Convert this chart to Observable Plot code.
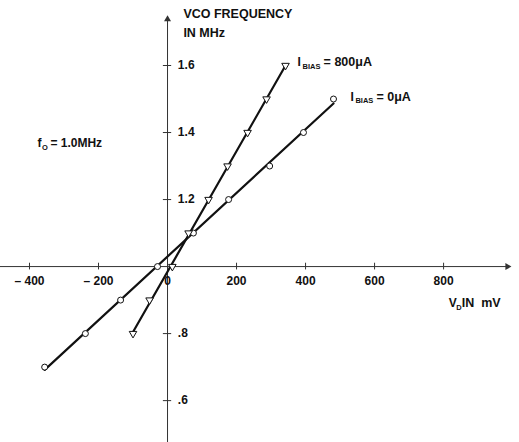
<!DOCTYPE html>
<html><head><meta charset="utf-8">
<script src="https://cdn.jsdelivr.net/npm/d3@7"></script>
<script src="https://cdn.jsdelivr.net/npm/@observablehq/plot@0.6"></script>
<style>body{margin:0;background:#fff} svg{display:block}</style>
</head><body><div id="chart"></div>
<script>
// VCO frequency (MHz) vs V_D (mV)
const vd0 = [-356, -238, -136, -29, 75, 177, 296, 394, 481];
const f0 = [0.70, 0.80, 0.90, 1.00, 1.10, 1.20, 1.30, 1.40, 1.50];
const vd800 = [-100, -52, 14, 61, 119, 174, 232, 287, 342];
const f800 = [0.80, 0.90, 1.00, 1.10, 1.20, 1.30, 1.40, 1.50, 1.60];
const xTicks = [-400, -200, 0, 200, 400, 600, 800];
const xTickLabels = ["– 400", "– 200", "0", "200", "400", "600", "800"];
const yTicks = [0.6, 0.8, 1.2, 1.4, 1.6];
const yTickLabels = [".6", ".8", "1.2", "1.4", "1.6"];

const s0 = vd0.map((x, i) => ({x, y: f0[i]}));
const s800 = vd800.map((x, i) => ({x, y: f800[i]}));

const FONT = "Liberation Sans, Arial, sans-serif";
const ink = "#111";
const txt = (data, o) => Plot.text(data, {fill: ink, fontWeight: "bold", fontSize: 12, textAnchor: "start", ...o});

const chart = Plot.plot({
  width: 519, height: 442, margin: 0,
  x: {domain: [-484, 1020], axis: null},
  y: {domain: [0.475, 1.794], axis: null},
  style: {fontFamily: FONT, background: "#fff"},
  marks: [
    // axes
    Plot.ruleY([1], {x1: -484, x2: 985, stroke: "#333", strokeWidth: 1}),
    Plot.dot([1], {x: 985, y: d => d, symbol: "triangle", rotate: 90, r: 2.6, fill: "#333", stroke: "none"}),
    Plot.ruleX([0], {y1: 0.475, y2: 1.735, stroke: "#333", strokeWidth: 1}),
    Plot.dot([0], {x: d => d, y: 1.738, symbol: "triangle", r: 2.6, fill: "#333", stroke: "none"}),
    Plot.ruleX(xTicks.filter(d => d !== 0), {x: d => d, y1: 0.99, y2: 1.01, stroke: "#333"}),
    Plot.ruleY(yTicks, {y: d => d, x1: -12, x2: 12, stroke: "#333"}),
    // tick labels
    txt(xTicks, {x: d => d, y: 0.955, text: (d, i) => xTickLabels[i], textAnchor: "middle"}),
    txt(yTicks, {x: 30, y: d => d, text: (d, i) => yTickLabels[i]}),
    // series lines
    Plot.linearRegressionY(s0, {x: "x", y: "y", stroke: ink, strokeWidth: 2.2, ci: 0}),
    Plot.linearRegressionY(s800, {x: "x", y: "y", stroke: ink, strokeWidth: 2.2, ci: 0}),
    Plot.dot(s0, {x: "x", y: "y", r: 3, fill: "#fff", stroke: ink, strokeWidth: 1}),
    Plot.dot(s800, {x: "x", y: "y", symbol: "triangle", rotate: 180, r: 2.8, fill: "#fff", stroke: ink, strokeWidth: 1}),
    // titles
    txt(["VCO FREQUENCY"], {x: 46, y: 1.755, text: d => d, fontSize: 12.5}),
    txt(["IN MHz"], {x: 46, y: 1.698, text: d => d, fontSize: 12.5}),
    // f_O = 1.0MHz
    txt(["f"], {x: -377, y: 1.367, text: d => d}),
    txt(["O"], {x: -377, y: 1.367, text: d => d, dx: 4.5, dy: 4, fontSize: 7.5}),
    txt(["= 1.0MHz"], {x: -377, y: 1.367, text: d => d, dx: 13}),
    // V_D IN mV
    txt(["V"], {x: 815, y: 0.89, text: d => d}),
    txt(["D"], {x: 815, y: 0.89, text: d => d, dx: 7.5, dy: 4, fontSize: 7.5}),
    txt(["IN  mV"], {x: 815, y: 0.89, text: d => d, dx: 13, fontSize: 12.5}),
    // I_BIAS labels
    txt(["I"], {x: 377, y: 1.609, text: d => d}),
    txt(["BIAS"], {x: 377, y: 1.609, text: d => d, dx: 5, dy: 4, fontSize: 7.5}),
    txt(["= 800μA"], {x: 377, y: 1.609, text: d => d, dx: 26, fontSize: 12.5}),
    txt(["I"], {x: 530, y: 1.507, text: d => d}),
    txt(["BIAS"], {x: 530, y: 1.507, text: d => d, dx: 5, dy: 4, fontSize: 7.5}),
    txt(["= 0μA"], {x: 530, y: 1.507, text: d => d, dx: 26, fontSize: 12.5})
  ]
});
document.getElementById("chart").append(chart);
</script>
</body></html>
